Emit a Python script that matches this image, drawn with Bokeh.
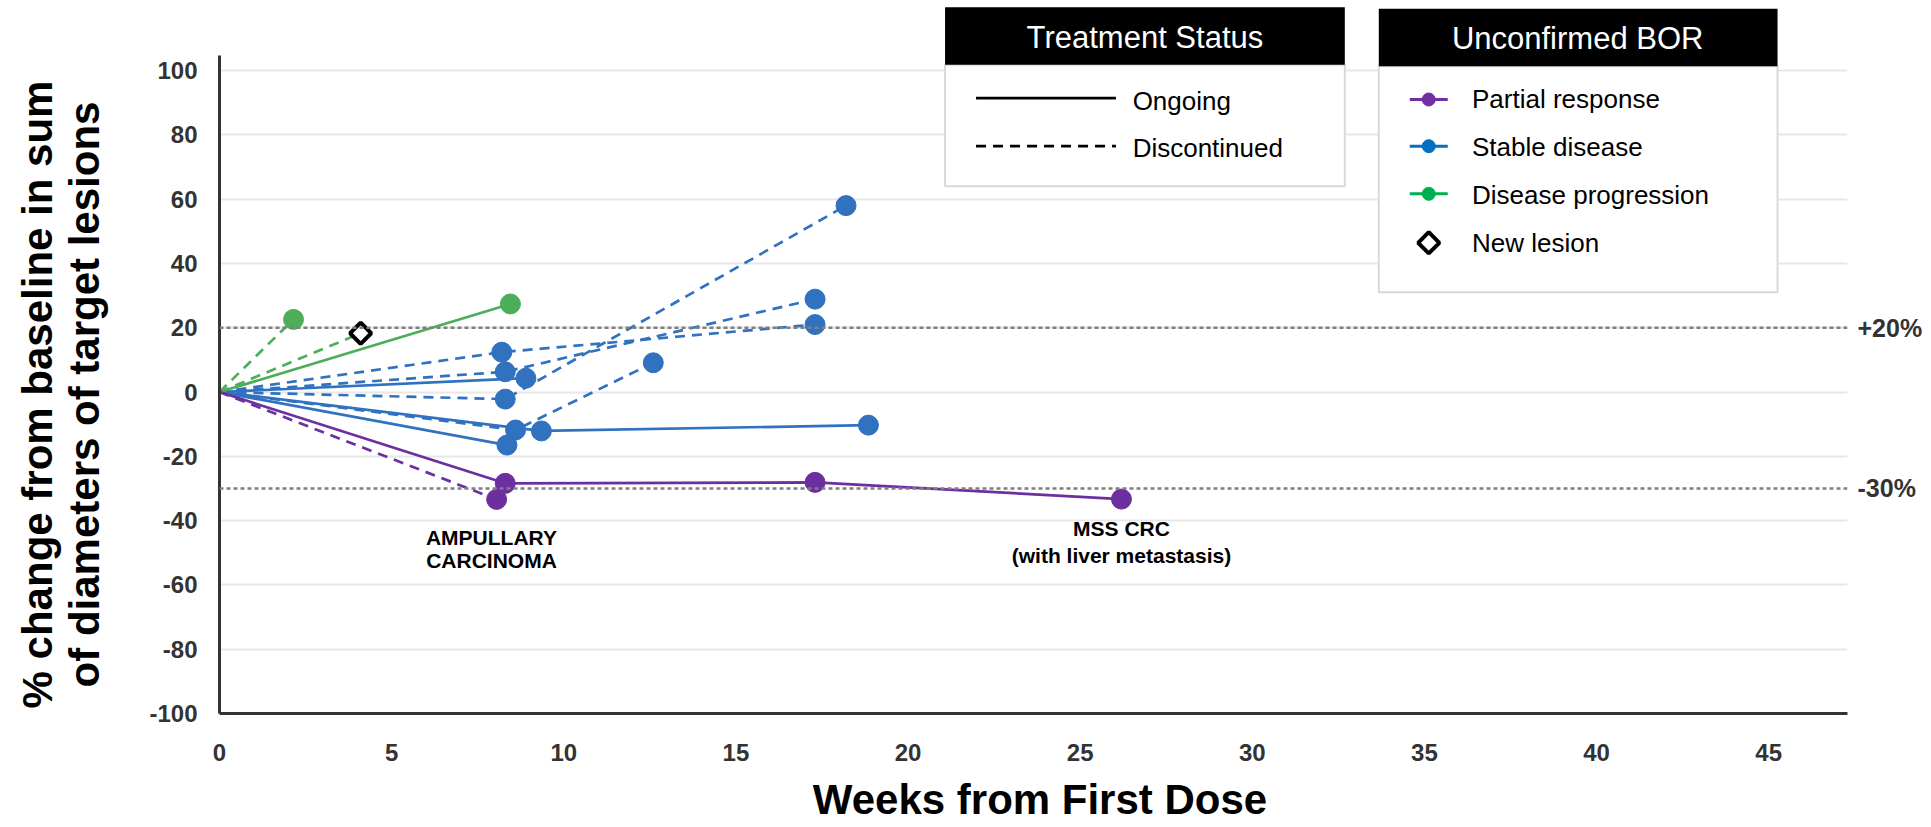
import numpy as np
from bokeh.plotting import figure
from bokeh.models import (Range1d, FixedTicker, Span, Label, BoxAnnotation, LinearAxis)
from bokeh.embed import file_html
from bokeh.resources import INLINE

# ---------------- data ----------------
week_ticks = [0, 5, 10, 15, 20, 25, 30, 35, 40, 45]
pct_ticks = [-100, -80, -60, -40, -20, 0, 20, 40, 60, 80, 100]
ref_lines = [20, -30]
ref_labels = ["+20%", "-30%"]

# Partial response (purple)
pr_weeks = [[0, 8.3, 17.3, 26.2], [0, 8.05]]
pr_pct = [[0, -28.4, -28.1, -33.3], [0, -33.4]]
pr_status = ["Ongoing", "Discontinued"]

# Stable disease (blue)
sd_weeks = [[0, 8.2, 17.3], [0, 8.3, 17.3], [0, 8.9], [0, 8.3, 18.2],
            [0, 8.6, 12.6], [0, 9.35, 18.85], [0, 8.35]]
sd_pct = [[0, 12.4, 21.0], [0, 6.3, 28.9], [0, 4.3], [0, -2.2, 58.0],
          [0, -11.8, 9.1], [0, -12.1, -10.3], [0, -16.5]]
sd_status = ["Discontinued", "Discontinued", "Ongoing", "Discontinued",
             "Discontinued", "Ongoing", "Ongoing"]

# Disease progression (green)
pd_weeks = [[0, 2.15], [0, 4.1], [0, 8.45]]
pd_pct = [[0, 22.6], [0, 18.3], [0, 27.4]]
pd_status = ["Discontinued", "Discontinued", "Ongoing"]
pd_new_lesion = [False, True, False]

status_names = ["Ongoing", "Discontinued"]
bor_names = ["Partial response", "Stable disease", "Disease progression", "New lesion"]

# ---------------- styles ----------------
C_PR, C_SD, C_PD = "#6C2F9F", "#3071C0", "#4DAE5A"
L_PR, L_SD, L_PD = "#7030A0", "#0070C0", "#00B050"
DASH = {"Ongoing": "solid", "Discontinued": "10 7"}
FONT = "Liberation Sans"

W, H = 1925, 827
ML, MT = 219, 0
FRAME_RIGHT, FRAME_BOTTOM = 1848, 713
MR, MB = W - FRAME_RIGHT, H - FRAME_BOTTOM

p = figure(width=W, height=H, output_backend="svg", toolbar_location=None,
           x_range=Range1d(0, 47.29), y_range=Range1d(-100, 121.8),
           min_border_left=ML, min_border_right=MR, min_border_top=MT,
           min_border_bottom=MB)
p.outline_line_color = None
p.background_fill_color = "white"
p.border_fill_color = "white"
# pixel ranges for decorations (canvas pixels, y downward)
p.extra_x_ranges = {"px": Range1d(ML, FRAME_RIGHT)}
p.extra_y_ranges = {"py": Range1d(FRAME_BOTTOM, MT)}

for ax in (p.xaxis[0], p.yaxis[0]):
    ax.axis_line_width = 3
    ax.axis_line_color = "#333333"
    ax.major_tick_line_color = None
    ax.minor_tick_line_color = None
    ax.major_label_text_font = FONT
    ax.major_label_text_font_style = "bold"
    ax.major_label_text_font_size = "24px"
    ax.major_label_text_color = "#333333"
p.xaxis.ticker = FixedTicker(ticks=week_ticks)
p.yaxis.ticker = FixedTicker(ticks=pct_ticks)
p.yaxis.major_label_overrides = {v: str(v) for v in pct_ticks}
p.yaxis.bounds = (-100, 104.7)
p.yaxis.major_label_standoff = 16
p.xaxis.major_label_standoff = 24
p.xgrid.visible = False
p.ygrid.ticker = FixedTicker(ticks=pct_ticks)
p.ygrid.grid_line_color = "#e8e8e8"
p.ygrid.grid_line_width = 2

# reference lines and their labels (right axis)
for yv in ref_lines:
    p.add_layout(Span(location=yv, dimension="width", line_color="#7f7f7f",
                      line_width=2.5, line_dash="4 3"))
rax = LinearAxis(ticker=FixedTicker(ticks=ref_lines),
                 major_label_overrides=dict(zip(ref_lines, ref_labels)),
                 axis_line_color=None, major_tick_line_color=None,
                 minor_tick_line_color=None, major_label_standoff=4,
                 major_label_text_font=FONT, major_label_text_font_style="bold",
                 major_label_text_font_size="25px", major_label_text_color="#333333")
p.add_layout(rax, "right")

def draw_group(weeks, pcts, status, color, new_lesion=None):
    for wk, pc, st in zip(weeks, pcts, status):
        p.line(wk, pc, line_color=color, line_width=2.7, line_dash=DASH[st])
    for i, (wk, pc) in enumerate(zip(weeks, pcts)):
        if new_lesion is not None and new_lesion[i]:
            p.scatter(wk[1:], pc[1:], marker="square", angle=np.pi / 4, size=15,
                      line_color="black", line_width=4, fill_color="white")
        else:
            p.scatter(wk[1:], pc[1:], marker="circle", size=20,
                      fill_color=color, line_color=color)

draw_group(sd_weeks, sd_pct, sd_status, C_SD)
draw_group(pd_weeks, pd_pct, pd_status, C_PD, pd_new_lesion)
draw_group(pr_weeks, pr_pct, pr_status, C_PR)

# annotations near points
for txt, x, y in [("AMPULLARY", 7.9, -45.1), ("CARCINOMA", 7.9, -52.3),
                  ("MSS CRC", 26.2, -42.6), ("(with liver metastasis)", 26.2, -50.7)]:
    p.add_layout(Label(x=x, y=y, text=txt, text_font=FONT, text_font_style="bold",
                       text_font_size="21px", text_color="black",
                       text_align="center", text_baseline="middle"))

# axis titles (placed in side panels so they are not clipped)
for txt, fx in [("of diameters of target lesions", 84), ("% change from baseline in sum", 37)]:
    p.add_layout(Label(x=fx, y=394, x_range_name="px", y_range_name="py", text=txt,
                       angle=np.pi / 2, text_font=FONT, text_font_style="bold",
                       text_font_size="42px", text_color="black",
                       text_align="center", text_baseline="middle"), "left")
p.add_layout(Label(x=1040, y=799, x_range_name="px", y_range_name="py",
                   text="Weeks from First Dose", text_font=FONT, text_font_style="bold",
                   text_font_size="42px", text_color="black",
                   text_align="center", text_baseline="middle"), "below")

# ---------------- legends ----------------
def box(l, r, t, b, fill, line=None):
    p.add_layout(BoxAnnotation(left=l, right=r, top=t, bottom=b, x_range_name="px",
                               y_range_name="py", fill_color=fill, fill_alpha=1,
                               line_color=line, line_width=2, line_alpha=1 if line else 0))

def text(x, y, t, size, color="black", align="left"):
    p.add_layout(Label(x=x, y=y, x_range_name="px", y_range_name="py", text=t,
                       text_font=FONT, text_font_size=size, text_color=color,
                       text_align=align, text_baseline="middle"))

# Treatment Status
box(945, 1345, 64.3, 185.7, "white", "#d9d9d9")
box(945, 1345, 6.7, 64.3, "black")
text(1145, 36.7, "Treatment Status", "31px", "white", "center")
for name, fy_line, fy_txt in zip(status_names, [97.7, 145.7], [100.5, 147.5]):
    p.line([976, 1116], [fy_line, fy_line], x_range_name="px", y_range_name="py",
           line_color="black", line_width=2.7, line_dash=DASH[name], level="overlay")
    text(1132.7, fy_txt, name, "26px")

# Unconfirmed BOR
box(1379, 1778, 65.7, 291.7, "white", "#d9d9d9")
box(1379, 1778, 8.3, 65.7, "black")
text(1578, 38, "Unconfirmed BOR", "31px", "white", "center")
bor_rows = [99, 145.7, 193.3, 242.3]
bor_txt_y = [98.8, 146.3, 194.5, 242.8]
for name, col, fy in zip(bor_names[:3], [L_PR, L_SD, L_PD], bor_rows[:3]):
    p.line([1410, 1448], [fy, fy], x_range_name="px", y_range_name="py",
           line_color=col, line_width=3, level="overlay")
    p.scatter([1429], [fy], x_range_name="px", y_range_name="py", marker="circle",
              size=13, fill_color=col, line_color=col, level="overlay")
p.scatter([1429], [bor_rows[3]], x_range_name="px", y_range_name="py", marker="square",
          angle=np.pi / 4, size=15, line_color="black", line_width=4,
          fill_color="white", level="overlay")
for name, fy in zip(bor_names, bor_txt_y):
    text(1472.3, fy, name, "26px")

open("out.html", "w").write(file_html(p, INLINE))
